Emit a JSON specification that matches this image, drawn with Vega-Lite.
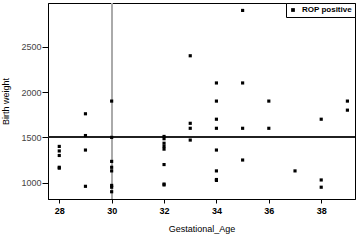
{
  "$schema": "https://vega.github.io/schema/vega-lite/v6.json",
  "width": 307,
  "height": 196,
  "autosize": "none",
  "padding": {"left": 48, "top": 3, "right": 8, "bottom": 47},
  "background": "white",
  "config": {
    "font": "Liberation Sans",
    "view": {"stroke": "black", "strokeWidth": 1},
    "axis": {
      "grid": false,
      "domainColor": "black",
      "tickColor": "black",
      "labelColor": "black",
      "titleColor": "black",
      "labelFont": "Liberation Sans",
      "titleFont": "Liberation Sans",
      "labelFontSize": 9,
      "titleFontSize": 9,
      "titleFontWeight": "normal",
      "tickSize": 4
    }
  },
  "data": {
    "values": [
      {"age": 28, "weight": 1400, "group": "ROP positive"},
      {"age": 28, "weight": 1350, "group": "ROP positive"},
      {"age": 28, "weight": 1300, "group": "ROP positive"},
      {"age": 28, "weight": 1170, "group": "ROP positive"},
      {"age": 28, "weight": 1160, "group": "ROP positive"},
      {"age": 29, "weight": 1760, "group": "ROP positive"},
      {"age": 29, "weight": 1520, "group": "ROP positive"},
      {"age": 29, "weight": 1360, "group": "ROP positive"},
      {"age": 29, "weight": 960, "group": "ROP positive"},
      {"age": 30, "weight": 1900, "group": "ROP positive"},
      {"age": 30, "weight": 1500, "group": "ROP positive"},
      {"age": 30, "weight": 1235, "group": "ROP positive"},
      {"age": 30, "weight": 1170, "group": "ROP positive"},
      {"age": 30, "weight": 1130, "group": "ROP positive"},
      {"age": 30, "weight": 970, "group": "ROP positive"},
      {"age": 30, "weight": 950, "group": "ROP positive"},
      {"age": 30, "weight": 900, "group": "ROP positive"},
      {"age": 32, "weight": 1510, "group": "ROP positive"},
      {"age": 32, "weight": 1485, "group": "ROP positive"},
      {"age": 32, "weight": 1435, "group": "ROP positive"},
      {"age": 32, "weight": 1400, "group": "ROP positive"},
      {"age": 32, "weight": 1370, "group": "ROP positive"},
      {"age": 32, "weight": 1200, "group": "ROP positive"},
      {"age": 32, "weight": 985, "group": "ROP positive"},
      {"age": 32, "weight": 975, "group": "ROP positive"},
      {"age": 33, "weight": 2400, "group": "ROP positive"},
      {"age": 33, "weight": 1655, "group": "ROP positive"},
      {"age": 33, "weight": 1600, "group": "ROP positive"},
      {"age": 33, "weight": 1470, "group": "ROP positive"},
      {"age": 34, "weight": 2100, "group": "ROP positive"},
      {"age": 34, "weight": 1900, "group": "ROP positive"},
      {"age": 34, "weight": 1700, "group": "ROP positive"},
      {"age": 34, "weight": 1600, "group": "ROP positive"},
      {"age": 34, "weight": 1360, "group": "ROP positive"},
      {"age": 34, "weight": 1130, "group": "ROP positive"},
      {"age": 34, "weight": 1035, "group": "ROP positive"},
      {"age": 34, "weight": 1025, "group": "ROP positive"},
      {"age": 35, "weight": 2900, "group": "ROP positive"},
      {"age": 35, "weight": 2100, "group": "ROP positive"},
      {"age": 35, "weight": 1600, "group": "ROP positive"},
      {"age": 35, "weight": 1250, "group": "ROP positive"},
      {"age": 36, "weight": 1900, "group": "ROP positive"},
      {"age": 36, "weight": 1600, "group": "ROP positive"},
      {"age": 37, "weight": 1130, "group": "ROP positive"},
      {"age": 38, "weight": 1700, "group": "ROP positive"},
      {"age": 38, "weight": 1030, "group": "ROP positive"},
      {"age": 38, "weight": 950, "group": "ROP positive"},
      {"age": 39, "weight": 1900, "group": "ROP positive"},
      {"age": 39, "weight": 1800, "group": "ROP positive"}
    ]
  },
  "layer": [
    {
      "mark": {"type": "rule", "color": "#aaaaaa", "strokeWidth": 1},
      "encoding": {"x": {"datum": 30, "type": "quantitative", "scale": {"domain": [27.57, 39.29], "nice": false, "zero": false}}}
    },
    {
      "mark": {"type": "rule", "color": "#222222", "strokeWidth": 1},
      "encoding": {"y": {"datum": 1500, "type": "quantitative", "scale": {"domain": [820, 2982], "nice": false, "zero": false}}}
    },
    {
      "mark": {"type": "point", "shape": "square", "filled": true, "size": 10, "opacity": 1},
      "encoding": {
        "x": {
          "field": "age", "type": "quantitative",
          "scale": {"domain": [27.57, 39.29], "nice": false, "zero": false},
          "axis": {"values": [28, 30, 32, 34, 36, 38], "title": "Gestational_Age", "labelPadding": 3, "titlePadding": 9, "labelFontWeight": "bold"}
        },
        "y": {
          "field": "weight", "type": "quantitative",
          "scale": {"domain": [820, 2982], "nice": false, "zero": false},
          "axis": {"values": [1000, 1500, 2000, 2500], "format": "d", "title": "Birth weight", "tickSize": 6, "labelPadding": 1, "titlePadding": 10, "labelColor": "#444444"}
        },
        "color": {
          "field": "group", "type": "nominal",
          "scale": {"range": ["black"]},
          "legend": {
            "title": null, "orient": "top-right", "offset": 0,
            "symbolType": "square", "symbolSize": 14, "symbolFillColor": "black",
            "labelFontSize": 8, "labelFontWeight": "bold", "labelColor": "black",
            "strokeColor": "black", "fillColor": "white", "padding": 3,
            "rowPadding": 0, "labelOffset": 5
          }
        }
      }
    }
  ]
}
